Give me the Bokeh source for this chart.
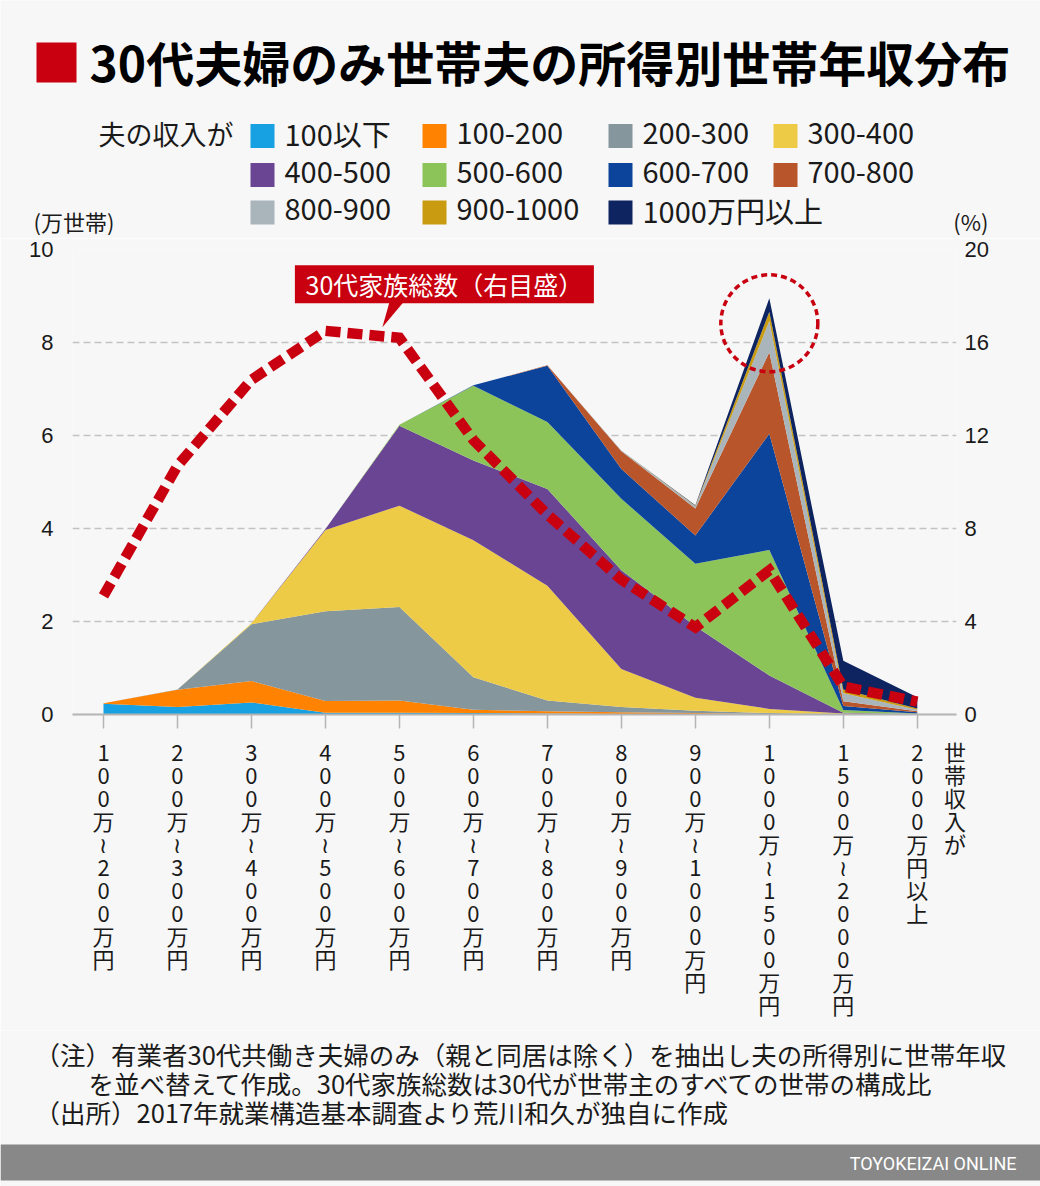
import numpy as np
from bokeh.plotting import figure
from bokeh.models import ColumnDataSource, Range1d, LinearAxis, FixedTicker
from bokeh.layouts import column
from bokeh.core.properties import value
from bokeh.embed import file_html
from bokeh.resources import INLINE

# ---------------- data ----------------
income_bins = ["100万~200万円", "200万~300万円", "300万~400万円", "400万~500万円",
               "500万~600万円", "600万~700万円", "700万~800万円", "800万~900万円",
               "900万~1000万円", "1000万~1500万円", "1500万~2000万円", "2000万円以上"]
x_axis_name = "世帯収入が"

series_names = ["100以下", "100-200", "200-300", "300-400", "400-500", "500-600",
                "600-700", "700-800", "800-900", "900-1000", "1000万円以上"]
series_colors = ["#17a0e2", "#ff8300", "#86969d", "#edcb46", "#6a4594", "#8dc45a",
                 "#0c449b", "#b9552a", "#aab4bb", "#c99b10", "#0e2460"]

# households (10k) by husband's income, for each household income bin
h_100_or_less = [0.23, 0.16, 0.26, 0.04, 0.04, 0.03, 0.02, 0.01, 0.01, 0.005, 0.0, 0.0]
h_100_200     = [0.01, 0.37, 0.46, 0.25, 0.26, 0.07, 0.05, 0.04, 0.02, 0.005, 0.0, 0.0]
h_200_300     = [0.0, 0.01, 1.22, 1.93, 2.01, 0.70, 0.23, 0.11, 0.05, 0.02, 0.005, 0.0]
h_300_400     = [0.0, 0.0, 0.02, 1.75, 2.18, 2.95, 2.47, 0.82, 0.28, 0.09, 0.015, 0.005]
h_400_500     = [0.0, 0.0, 0.0, 0.02, 1.72, 1.71, 2.08, 2.12, 1.54, 0.72, 0.015, 0.005]
h_500_600     = [0.0, 0.0, 0.0, 0.0, 0.02, 1.61, 1.44, 1.54, 1.34, 2.70, 0.06, 0.01]
h_600_700     = [0.0, 0.0, 0.0, 0.0, 0.0, 0.01, 1.21, 0.64, 0.61, 2.50, 0.09, 0.03]
h_700_800     = [0.0, 0.0, 0.0, 0.0, 0.0, 0.0, 0.01, 0.38, 0.58, 1.75, 0.10, 0.02]
h_800_900     = [0.0, 0.0, 0.0, 0.0, 0.0, 0.0, 0.0, 0.02, 0.05, 0.67, 0.17, 0.03]
h_900_1000    = [0.0, 0.0, 0.0, 0.0, 0.0, 0.0, 0.0, 0.0, 0.01, 0.20, 0.08, 0.03]
h_1000_plus   = [0.0, 0.0, 0.0, 0.0, 0.0, 0.0, 0.0, 0.0, 0.01, 0.29, 0.62, 0.24]

# share of all 30s-headed households (%), right axis
family_total_pct = [5.1, 10.7, 14.4, 16.5, 16.2, 11.8, 8.6, 5.8, 3.75, 6.2, 1.2, 0.55]

left_ticks = [0, 2, 4, 6, 8, 10]
right_ticks = [0, 4, 8, 12, 16, 20]

title_text = "30代夫婦のみ世帯夫の所得別世帯年収分布"
legend_title = "夫の収入が"
callout_text = "30代家族総数（右目盛）"
note_lines = ["（注）有業者30代共働き夫婦のみ（親と同居は除く）を抽出し夫の所得別に世帯年収",
              "を並べ替えて作成。30代家族総数は30代が世帯主のすべての世帯の構成比",
              "（出所）2017年就業構造基本調査より荒川和久が独自に作成"]
brand = "TOYOKEIZAI ONLINE"

# ---------------- styles ----------------
BG = "#f7f7f7"
RED = "#c8000f"
TXT = "#1a1a1a"
JP = "Noto Sans CJK JP"
W = 1040

layers = [h_100_or_less, h_100_200, h_200_300, h_300_400, h_400_500, h_500_600,
          h_600_700, h_700_800, h_800_900, h_900_1000, h_1000_plus]
keys = [f"s{i}" for i in range(len(layers))]
xs = list(range(len(income_bins)))
data = {"x": xs, "pct": family_total_pct}
for k, arr in zip(keys, layers):
    data[k] = arr
source = ColumnDataSource(data)

def blank(h):
    f = figure(width=W, height=h, x_range=Range1d(0, W), y_range=Range1d(h, 0),
               output_backend="svg", toolbar_location=None, min_border=0,
               x_axis_location=None, y_axis_location=None, frame_align=False)
    f.grid.visible = False
    f.outline_line_color = None
    f.background_fill_color = BG
    f.border_fill_color = BG
    return f

# ---------------- header ----------------
HH = 238
hdr = blank(HH)
hdr.rect(x=[56], y=[62], width=40, height=40, fill_color=RED, line_color=None)
hdr.text(x=[89], y=[60], text=[title_text], text_font=value(JP), text_font_style="bold",
         text_font_size="48px", text_color="#000000", text_baseline="middle")
col_x = [250, 422, 608, 773]
row_y = [135.5, 174.5, 212]
hdr.text(x=[233], y=[row_y[0] - 3], text=[legend_title], text_font=value(JP),
         text_font_size="27px", text_color=TXT, text_baseline="middle", text_align="right")
sw_x, sw_y, lab_x, lab_y = [], [], [], []
for i, name in enumerate(series_names):
    r, c = divmod(i, 4)
    sw_x.append(col_x[c] + 12)
    sw_y.append(row_y[r])
    lab_x.append(col_x[c] + 34)
    lab_y.append(row_y[r] - 3)
hdr.rect(x=sw_x, y=sw_y, width=24, height=24, fill_color=series_colors, line_color=None)
hdr.text(x=lab_x, y=lab_y, text=series_names, text_font=value(JP), text_font_size="29px",
         text_color=TXT, text_baseline="middle")
hdr.text(x=[33], y=[220], text=["(万世帯)"], text_font=value(JP), text_font_size="22px",
         text_color=TXT, text_baseline="middle")
hdr.text(x=[988], y=[220], text=["(%)"], text_font=value(JP), text_font_size="22px",
         text_color=TXT, text_baseline="middle", text_align="right")

# ---------------- main chart ----------------
X_START, X_END = -0.419, 11.53
p = figure(width=W, height=792, x_range=Range1d(X_START, X_END), y_range=Range1d(0, 10),
           output_backend="svg", toolbar_location=None, frame_align=False,
           min_border_left=72, min_border_right=84, min_border_top=11, min_border_bottom=316)
p.background_fill_color = BG
p.border_fill_color = BG
p.outline_line_color = None
p.extra_y_ranges = {"pct": Range1d(0, 20)}

p.varea_stack(stackers=keys, x="x", color=series_colors, source=source)

p.line(x="x", y="pct", source=source, y_range_name="pct", line_color=RED,
       line_width=10.5, line_dash="15 7", line_join="miter")

# dashed circle around the peak
totals = np.sum(np.array(layers), axis=0)
peak = int(np.argmax(totals))
px_y = 10 / 465.0
p.scatter(x=[peak], y=[totals[peak] - 25 * px_y], marker="circle", size=97,
          fill_alpha=0, line_color=RED, line_width=3.5, line_dash="6 4")

# callout
px_x = 1 / 74.0
px_pct = 20 / 465.0
lpk = int(np.argmax(family_total_pct))
tip_x = lpk + 0.77
tip_y = float(np.interp(tip_x, xs, family_total_pct)) + 9 * px_pct
box_cx = tip_x + 62 * px_x
box_cy = tip_y + 43 * px_pct
box_bot = box_cy - 19 * px_pct
p.patch(x=[tip_x, tip_x + 7 * px_x, tip_x + 21 * px_x],
        y=[tip_y, box_bot + px_pct, box_bot + px_pct], y_range_name="pct",
        fill_color=RED, line_color=None)
p.rect(x=[box_cx], y=[box_cy], width=299, height=38, width_units="screen",
       height_units="screen", y_range_name="pct", fill_color=RED, line_color=None)
p.text(x=[box_cx], y=[box_cy], text=[callout_text], y_range_name="pct",
       text_font=value(JP), text_font_size="25px", text_color="#ffffff",
       text_align="center", text_baseline="middle")

# axes
p.yaxis.ticker = FixedTicker(ticks=left_ticks)
p.ygrid.ticker = FixedTicker(ticks=left_ticks)
p.ygrid.grid_line_color = "#c2c2c2"
p.ygrid.grid_line_dash = "7 4"
p.ygrid.grid_line_width = 1.5
p.xgrid.visible = False

ya = p.yaxis[0]
ya.axis_line_color = None
ya.major_tick_line_color = None
ya.minor_tick_line_color = None
ya.major_label_standoff = 13
ya.major_label_text_font = "Liberation Sans"
ya.major_label_text_font_size = "22px"
ya.major_label_text_color = TXT

ra = LinearAxis(y_range_name="pct", ticker=FixedTicker(ticks=right_ticks))
ra.axis_line_color = None
ra.major_tick_line_color = None
ra.minor_tick_line_color = None
ra.major_label_standoff = 2
ra.major_label_text_font = "Liberation Sans"
ra.major_label_text_font_size = "22px"
ra.major_label_text_color = TXT
p.add_layout(ra, "right")

def vertical(s):
    return "\n".join("≀" if ch == "~" else ch for ch in s)

name_pos = 11.51
xa = p.xaxis[0]
xa.ticker = FixedTicker(ticks=xs + [name_pos], minor_ticks=xs)
overrides = {i: vertical(lab) for i, lab in enumerate(income_bins)}
overrides[name_pos] = vertical(x_axis_name)
xa.major_label_overrides = overrides
xa.axis_line_color = "#b4b4b4"
xa.axis_line_width = 2
xa.major_tick_line_color = None
xa.major_tick_in = 0
xa.major_tick_out = 0
xa.minor_tick_line_color = "#b4b4b4"
xa.minor_tick_line_width = 1.5
xa.minor_tick_in = 0
xa.minor_tick_out = 14
xa.major_label_standoff = 6
xa.major_label_text_font = JP
xa.major_label_text_font_size = "22px"
xa.major_label_text_line_height = 0.72
xa.major_label_text_color = TXT

# ---------------- footer ----------------
FH = 156
ftr = blank(FH)
ftr.text(x=[34, 88, 34], y=[23, 52, 81], text=note_lines, text_font=value(JP),
         text_font_size="25.5px", text_color=TXT, text_baseline="middle")
ftr.rect(x=[W / 2], y=[132], width=W, height=36, fill_color="#888888", line_color=None)
ftr.text(x=[1016], y=[133], text=[brand], text_font=value("Roboto"),
         text_font_size="18px", text_color="#ffffff", text_baseline="middle", text_align="right")

layout = column(hdr, p, ftr, spacing=0)
open("out.html", "w").write(file_html(layout, INLINE))
